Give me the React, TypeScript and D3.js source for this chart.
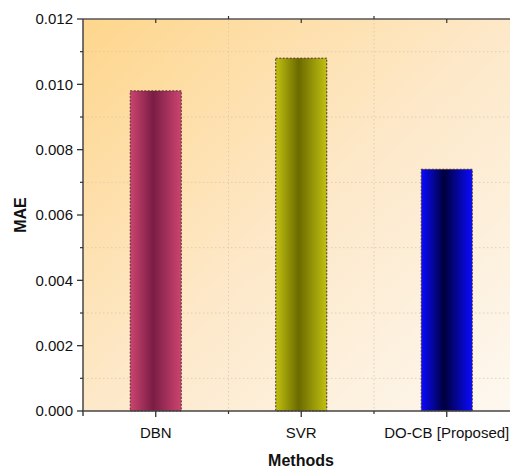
import React from "react";
import * as d3 from "d3";

const categories = ["DBN", "SVR", "DO-CB [Proposed]"];
const values = [0.0098, 0.0108, 0.0074];
const yTicks = [0, 0.002, 0.004, 0.006, 0.008, 0.01, 0.012];
const yMinor = [0.001, 0.003, 0.005, 0.007, 0.009, 0.011];
const barColors = [
  { edge: "#cc446f", mid: "#7a1d45" },
  { edge: "#c0c010", mid: "#6a6a00" },
  { edge: "#0a0aff", mid: "#00003c" },
];

export default function App() {
  const W = 510, H = 469;
  const left = 83, top = 19, bottom = 411;
  const step = 145.5;
  const right = left + step * categories.length;
  const x = d3.scaleBand<string>().domain(categories).range([left, right]).paddingInner(0).paddingOuter(0);
  const y = d3.scaleLinear().domain([0, 0.012]).range([bottom, top]);
  const bw = 51;
  const boundaries = categories.slice(1).map((c) => x(c)!);
  return (
    <svg width={W} height={H} style={{ position: "absolute", left: 0, top: 0, fontFamily: "Liberation Sans, Arial, sans-serif" }}>
      <defs>
        <linearGradient id="bg" x1="0" y1="0" x2="1" y2="1">
          <stop offset="0%" stopColor="#fed68c" />
          <stop offset="50%" stopColor="#fde8c8" />
          <stop offset="100%" stopColor="#fdf8f0" />
        </linearGradient>
        {barColors.map((c, i) => (
          <linearGradient key={i} id={`bar${i}`} x1="0" y1="0" x2="1" y2="0">
            <stop offset="0%" stopColor={c.edge} />
            <stop offset="45%" stopColor={c.mid} />
            <stop offset="100%" stopColor={c.edge} />
          </linearGradient>
        ))}
      </defs>
      <rect x={left} y={top} width={W - left} height={bottom - top} fill="url(#bg)" />
      {yMinor.map((v) => (
        <line key={v} x1={left} x2={W} y1={y(v)} y2={y(v)} stroke="#d8c8b0" strokeWidth={0.8} strokeDasharray="1.5,2.5" />
      ))}
      {boundaries.map((b) => (
        <line key={b} x1={b} x2={b} y1={top} y2={bottom} stroke="#d8c8b0" strokeWidth={0.8} strokeDasharray="1.5,2.5" />
      ))}
      {categories.map((c, i) => {
        const cx = x(c)! + x.bandwidth() / 2;
        return (
          <rect key={c} x={cx - bw / 2} y={y(values[i])} width={bw} height={bottom - y(values[i])}
            fill={`url(#bar${i})`} stroke="#4a3030" strokeWidth={1} strokeDasharray="2,1.5" />
        );
      })}
      <line x1={left} x2={left} y1={top} y2={bottom + 5} stroke="#444" strokeWidth={1.5} />
      <line x1={left - 1} x2={W} y1={bottom} y2={bottom} stroke="#444" strokeWidth={1.5} />
      <line x1={left} x2={W} y1={top} y2={top} stroke="#555" strokeWidth={1.5} />
      {yTicks.map((v) => (
        <g key={v}>
          <line x1={left - 6} x2={left} y1={y(v)} y2={y(v)} stroke="#333" strokeWidth={1.3} />
          <text x={left - 10} y={y(v)} dy="0.35em" textAnchor="end" fontSize={15} fill="#111">{v.toFixed(3)}</text>
        </g>
      ))}
      {yMinor.map((v) => (
        <line key={v} x1={left - 3} x2={left} y1={y(v)} y2={y(v)} stroke="#333" strokeWidth={1.2} />
      ))}
      {categories.map((c) => {
        const cx = x(c)! + x.bandwidth() / 2;
        return (
          <g key={c}>
            <line x1={cx} x2={cx} y1={bottom} y2={bottom + 6} stroke="#333" strokeWidth={1.3} />
            <line x1={cx} x2={cx} y1={top} y2={top + 4} stroke="#333" strokeWidth={1.2} />
            <text x={cx} y={438} textAnchor="middle" fontSize={15} fill="#111">{c}</text>
          </g>
        );
      })}
      {boundaries.map((b) => (
        <g key={b}>
          <line x1={b} x2={b} y1={bottom} y2={bottom + 3} stroke="#333" strokeWidth={1.2} />
          <line x1={b} x2={b} y1={top - 3} y2={top} stroke="#333" strokeWidth={1.2} />
        </g>
      ))}
      <text x={301} y={466} textAnchor="middle" fontSize={16} fontWeight="bold" fill="#111">Methods</text>
      <text transform="translate(26,215) rotate(-90)" textAnchor="middle" fontSize={16} fontWeight="bold" fill="#111">MAE</text>
    </svg>
  );
}
